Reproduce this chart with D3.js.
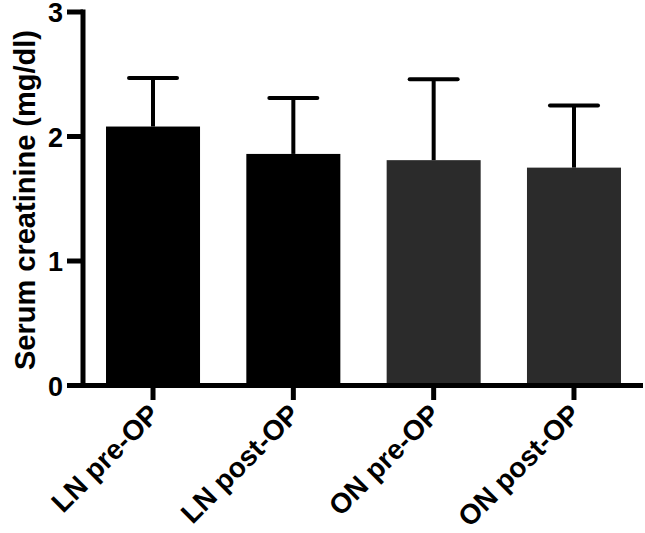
<!DOCTYPE html>
<html>
<head>
<meta charset="utf-8">
<script src="https://cdn.jsdelivr.net/npm/d3@7"></script>
<style>
  html, body { margin: 0; padding: 0; background: #fff; }
  svg { display: block; }
  text { font-family: "Liberation Sans", Arial, Helvetica, sans-serif; font-weight: bold; }
</style>
</head>
<body>
<svg id="chart" width="645" height="533"></svg>
<script>
const categories = ["LN pre-OP", "LN post-OP", "ON pre-OP", "ON post-OP"];
const means = [2.08, 1.86, 1.81, 1.75];
const sds = [0.39, 0.45, 0.65, 0.50];
const barColors = ["#000000", "#000000", "#2b2b2b", "#2b2b2b"];
const yTicks = [0, 1, 2, 3];
const yLabel = "Serum creatinine (mg/dl)";

const svg = d3.select("#chart");
const axisX = 83;
const y = d3.scaleLinear().domain([0, 3]).range([385.5, 12]);
const x = d3.scaleBand().domain(categories).range([axisX, 644])
  .paddingInner(0.33).paddingOuter(0.164);

const data = categories.map((c, i) => ({ c, m: means[i], sd: sds[i], col: barColors[i] }));

// bars
svg.append("g").selectAll("rect").data(data).join("rect")
  .attr("x", d => x(d.c))
  .attr("width", x.bandwidth())
  .attr("y", d => y(d.m))
  .attr("height", d => y(0) - y(d.m))
  .attr("fill", d => d.col);

// error bars
const eb = svg.append("g").attr("stroke", "#000").attr("stroke-width", 4);
eb.selectAll("line.stem").data(data).join("line").attr("class", "stem")
  .attr("x1", d => x(d.c) + x.bandwidth() / 2)
  .attr("x2", d => x(d.c) + x.bandwidth() / 2)
  .attr("y1", d => y(d.m))
  .attr("y2", d => y(d.m + d.sd));
eb.selectAll("line.cap").data(data).join("line").attr("class", "cap")
  .attr("x1", d => x(d.c) + x.bandwidth() / 2 - 24)
  .attr("x2", d => x(d.c) + x.bandwidth() / 2 + 24)
  .attr("y1", d => y(d.m + d.sd))
  .attr("y2", d => y(d.m + d.sd))
  .attr("stroke-linecap", "round");

// y axis
const yAxis = svg.append("g");
yAxis.append("line")
  .attr("x1", axisX).attr("x2", axisX)
  .attr("y1", y(3) - 2.5).attr("y2", y(0) + 2.5)
  .attr("stroke", "#000").attr("stroke-width", 5);
yAxis.selectAll("line.tick").data(yTicks).join("line").attr("class", "tick")
  .attr("x1", 67).attr("x2", axisX)
  .attr("y1", d => y(d)).attr("y2", d => y(d))
  .attr("stroke", "#000").attr("stroke-width", 5);
yAxis.selectAll("text").data(yTicks).join("text")
  .attr("x", 63).attr("y", d => y(d))
  .attr("dy", "0.38em")
  .attr("text-anchor", "end")
  .attr("font-size", 27)
  .text(d => d);

// x axis
const xAxis = svg.append("g");
xAxis.append("line")
  .attr("x1", 67).attr("x2", 643)
  .attr("y1", y(0)).attr("y2", y(0))
  .attr("stroke", "#000").attr("stroke-width", 5);
xAxis.selectAll("line.tick").data(categories).join("line").attr("class", "tick")
  .attr("x1", d => x(d) + x.bandwidth() / 2)
  .attr("x2", d => x(d) + x.bandwidth() / 2)
  .attr("y1", y(0)).attr("y2", 400)
  .attr("stroke", "#000").attr("stroke-width", 5);
xAxis.selectAll("text").data(categories).join("text")
  .attr("transform", d => `translate(${x(d) + x.bandwidth() / 2 + 8},${416}) rotate(-45)`)
  .attr("text-anchor", "end")
  .attr("font-size", 28)
  .text(d => d);

// y label
svg.append("text")
  .attr("transform", "translate(35,200) rotate(-90)")
  .attr("text-anchor", "middle")
  .attr("font-size", 29)
  .text(yLabel);
</script>
</body>
</html>
